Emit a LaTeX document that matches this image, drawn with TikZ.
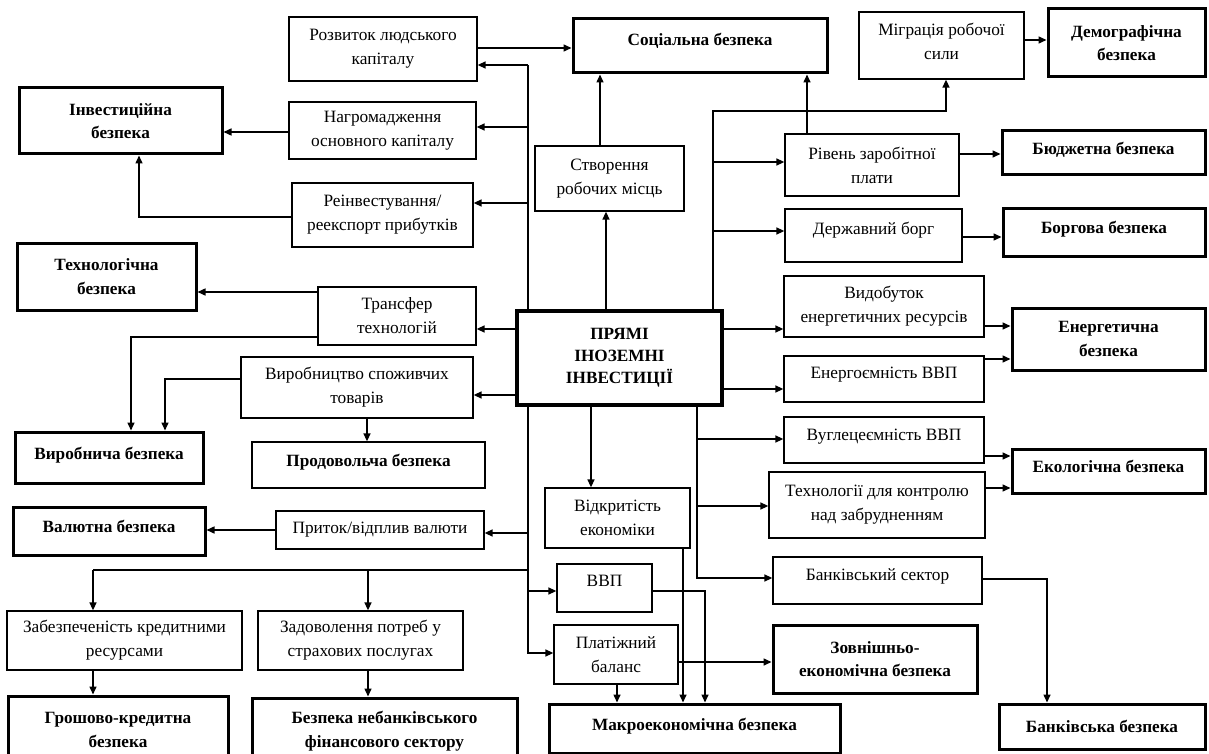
\documentclass[tikz,border=0pt]{standalone}
\usepackage{fontspec}
\setmainfont{Liberation Serif}
\usetikzlibrary{arrows.meta,calc}
\begin{document}
\begin{tikzpicture}[x=1pt,y=-1pt,
  box/.style={draw, line width=1.3pt, align=center, inner sep=0pt, font=\fontsize{17.3}{24}\selectfont},
  bbox/.style={box, line width=3pt, font=\fontsize{17.2}{23.5}\selectfont\bfseries},
  pbox/.style={box, line width=4.5pt, font=\fontsize{17.2}{22}\selectfont\bfseries},
  tup/.style={text depth=#1pt},
  con/.style={line width=1.5pt},
  arr/.style={con, -{Triangle[length=8pt,width=7pt]}},
  sz/.style 2 args={minimum width=#1pt, minimum height=#2pt}]
\useasboundingbox (0,0) rectangle (1209,754);
\clip (0,0) rectangle (1209,754);
\fill[white] (0,0) rectangle (1209,754);

% nodes
\node[box, sz={188}{64}] (rozv) at (383,49) {Розвиток людського\\капіталу};
\node[bbox, sz={203}{66}] (inv) at (120.5,121) {Інвестиційна\\безпека};
\node[box, sz={187}{57}] (nagr) at (382.5,130.5) {Нагромадження\\основного капіталу};
\node[box, sz={181}{64}] (reinv) at (382.5,215) {Реінвестування/\\реекспорт прибутків};
\node[bbox, tup=14, sz={254}{54}] (soc) at (700,46) {Соціальна безпека};
\node[box, sz={149}{65}] (stv) at (609.5,178.5) {Створення\\робочих місць};
\node[box, tup=9, sz={165}{67}] (migr) at (941.5,45.5) {Міграція робочої\\сили};
\node[bbox, sz={157}{68}] (demo) at (1126.5,43) {Демографічна\\безпека};
\node[box, sz={174}{62}] (riv) at (872,165) {Рівень заробітної\\плати};
\node[bbox, tup=10, sz={203}{44}] (budg) at (1103.5,153) {Бюджетна безпека};
\node[box, tup=14, sz={177}{53}] (derzh) at (873.5,235.5) {Державний борг};
\node[bbox, tup=9, sz={202}{48}] (borg) at (1104,232) {Боргова безпека};
\node[bbox, sz={179}{67}] (tech) at (106.5,276.5) {Технологічна\\безпека};
\node[box, sz={158}{58}] (transf) at (397,316) {Трансфер\\технологій};
\node[pbox, sz={205}{94}] (pii) at (619.5,358) {ПРЯМІ\\ІНОЗЕМНІ\\ІНВЕСТИЦІЇ};
\node[box, sz={232}{61}] (vyrob) at (357,387.5) {Виробництво споживчих\\товарів};
\node[bbox, tup=9, sz={188}{51}] (vyrobn) at (109,457.5) {Виробнича безпека};
\node[box, tup=10, font=\fontsize{17.2}{23.5}\selectfont\bfseries, sz={233}{46}] (prod) at (368.5,465) {Продовольча безпека};
\node[box, sz={200}{61}] (vydob) at (884,306.5) {Видобуток\\енергетичних ресурсів};
\node[bbox, sz={193}{62}] (energ) at (1108.5,339) {Енергетична\\безпека};
\node[box, tup=12, sz={200}{46}] (enem) at (884,379) {Енергоємність ВВП};
\node[box, tup=11, sz={200}{46}] (vugl) at (884,440) {Вуглецеємність ВВП};
\node[bbox, tup=9, sz={193}{44}] (ekol) at (1108.5,471) {Екологічна безпека};
\node[box, sz={216}{66}] (techn) at (877,505) {Технології для контролю\\над забрудненням};
\node[bbox, tup=10, sz={192}{48}] (val) at (109,531) {Валютна безпека};
\node[box, sz={208}{38}] (prit) at (380,530) {Приток/відплив валюти};
\node[box, sz={145}{60}] (vidkr) at (617.5,518) {Відкритість\\економіки};
\node[box, tup=14, sz={95}{48}] (vvp) at (604.5,588) {ВВП};
\node[box, sz={124}{59}] (plat) at (616,654.5) {Платіжний\\баланс};
\node[box, tup=12, sz={209}{47}] (bank) at (877.5,580.5) {Банківський сектор};
\node[bbox, sz={204}{68}] (zovn) at (875,659) {Зовнішньо-\\економічна безпека};
\node[box, sz={235}{59}] (zab) at (124.5,640.5) {Забезпеченість кредитними\\ресурсами};
\node[box, sz={205}{59}] (zad) at (360.5,640.5) {Задоволення потреб у\\страхових послугах};
\node[bbox, sz={220}{68}] (grosh) at (118,730) {Грошово-кредитна\\безпека};
\node[bbox, sz={265}{66}] (nebank) at (384.5,731) {Безпека небанківського\\фінансового сектору};
\node[bbox, tup=8, sz={291}{49}] (makro) at (694.5,728.5) {Макроекономічна безпека};
\node[bbox, sz={206}{45}] (banks) at (1102,726.5) {Банківська безпека};

% left trunk, upper
\draw[con] (pii.north -| 528,0) -- (528,65);
\draw[arr] (528,65) -- (rozv.east |- 0,65);
\draw[arr] (528,127) -- (nagr.east |- 0,127);
\draw[arr] (528,203) -- (reinv.east |- 0,203);
\draw[arr] (rozv.east |- 0,48) -- (soc.west |- 0,48);
\draw[arr] (nagr.west |- 0,132) -- (inv.east |- 0,132);
\draw[arr] (reinv.west |- 0,217) -| (inv.south -| 139,0);
% centre upper
\draw[arr] (stv.north -| 600,0) -- (soc.south -| 600,0);
\draw[arr] (pii.north -| 606,0) -- (stv.south -| 606,0);
% right trunk, upper
\draw[arr] (pii.north -| 713,0) -- (713,111) -| (migr.south -| 946,0);
\draw[arr] (713,162) -- (riv.west |- 0,162);
\draw[arr] (713,231) -- (derzh.west |- 0,231);
\draw[arr] (riv.north -| 807,0) -- (soc.south -| 807,0);
\draw[arr] (migr.east |- 0,40) -- (demo.west |- 0,40);
\draw[arr] (riv.east |- 0,154) -- (budg.west |- 0,154);
\draw[arr] (derzh.east |- 0,237) -- (borg.west |- 0,237);
% left side of pii
\draw[arr] (pii.west |- 0,329) -- (transf.east |- 0,329);
\draw[arr] (pii.west |- 0,395) -- (vyrob.east |- 0,395);
\draw[arr] (transf.west |- 0,292) -- (tech.east |- 0,292);
\draw[arr] (transf.west |- 0,337) -| (vyrobn.north -| 131,0);
\draw[arr] (vyrob.west |- 0,379) -| (vyrobn.north -| 165,0);
\draw[arr] (vyrob.south -| 367,0) -- (prod.north -| 367,0);
% right side of pii
\draw[arr] (pii.east |- 0,329) -- (vydob.west |- 0,329);
\draw[arr] (pii.east |- 0,389) -- (enem.west |- 0,389);
\draw[arr] (vydob.east |- 0,326) -- (energ.west |- 0,326);
\draw[arr] (enem.east |- 0,359) -- (energ.west |- 0,359);
\draw[arr] (vugl.east |- 0,456) -- (ekol.west |- 0,456);
\draw[arr] (techn.east |- 0,488) -- (ekol.west |- 0,488);
\draw[arr] (pii.south -| 697,0) |- (bank.west |- 0,578);
\draw[arr] (697,439) -- (vugl.west |- 0,439);
\draw[arr] (697,506) -- (techn.west |- 0,506);
\draw[arr] (pii.south -| 591,0) -- (vidkr.north -| 591,0);
% left trunk, lower
\draw[arr] (pii.south -| 528,0) |- (plat.west |- 0,653);
\draw[arr] (528,533) -- (prit.east |- 0,533);
\draw[arr] (528,591) -- (vvp.west |- 0,591);
\draw[con] (528,570) -- (93,570);
\draw[arr] (93,570) -- (zab.north -| 93,0);
\draw[arr] (368,570) -- (zad.north -| 368,0);
\draw[arr] (prit.west |- 0,530) -- (val.east |- 0,530);
\draw[arr] (zab.south -| 93,0) -- (grosh.north -| 93,0);
\draw[arr] (zad.south -| 368,0) -- (nebank.north -| 368,0);
% macro
\draw[arr] (vidkr.south -| 683,0) -- (makro.north -| 683,0);
\draw[arr] (vvp.east |- 0,591) -| (makro.north -| 705,0);
\draw[arr] (plat.south -| 617,0) -- (makro.north -| 617,0);
\draw[arr] (plat.east |- 0,662) -- (zovn.west |- 0,662);
\draw[arr] (bank.east |- 0,579) -| (banks.north -| 1047,0);
\end{tikzpicture}
\end{document}
